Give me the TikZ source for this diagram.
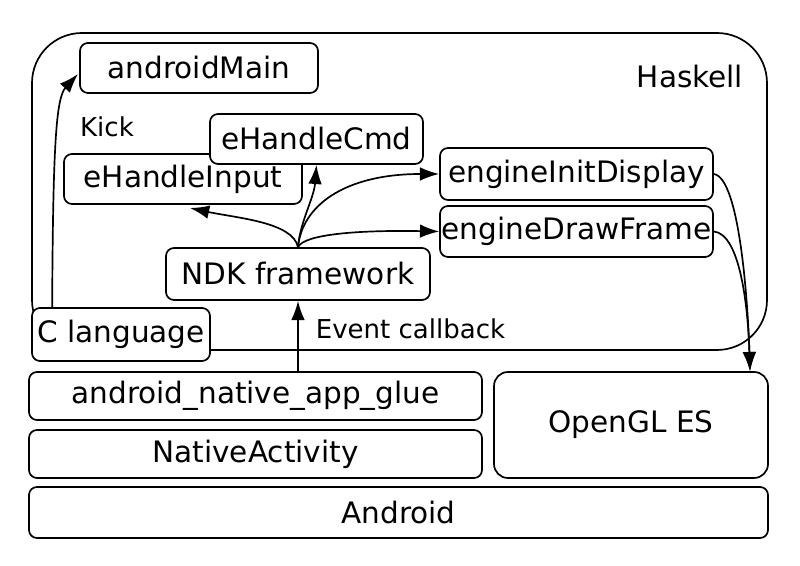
\documentclass[tikz,border=0pt]{standalone}
\usepackage{fontspec}
\setmainfont{DejaVu Sans}
\usepackage{tikz}
\usetikzlibrary{arrows.meta}

\begin{document}
\begin{tikzpicture}[
	line width=1.2pt,
	blk/.style={rectangle,draw,rounded corners=0.2cm,fill=white,inner sep=0pt,font=\fontsize{21}{25}\selectfont},
	lbl/.style={inner sep=0pt,font=\fontsize{18.5}{22}\selectfont},
	arr/.style={-{Latex[length=0.48cm,width=0.34cm]}}]
		\useasboundingbox (0,0) rectangle (20,14.15);
%		\draw[help lines] (0,0) grid (20,14);
		\draw[rounded corners=1.25cm] (0.8,5.4) rectangle (19.175,13.325);
		\path (17.25,12.225) node(haskell) [lbl,font=\fontsize{21}{25}\selectfont] {Haskell};
		\path (2.675,10.975) node(kick) [lbl] {Kick};
		\path (7.875,5.925) node(event) [lbl,anchor=west] {Event callback};

		\path (4.975,12.45) node(android_main) [blk,minimum width=5.95cm,minimum height=1.25cm] {androidMain};
		\path (4.575,9.675) node(e_input) [blk,minimum width=5.95cm,minimum height=1.25cm] {eHandleInput};
		\path (7.9125,10.675) node(e_cmd) [blk,minimum width=5.325cm,minimum height=1.25cm] {eHandleCmd};
		\path (7.45,7.3) node(ndk) [blk,minimum width=6.6cm,minimum height=1.3cm] {NDK framework};
		\path (14.4125,9.8) node(init_display) [blk,minimum width=6.825cm,minimum height=1.3cm] {engineInitDisplay};
		\path (14.4125,8.3625) node(draw_frame) [blk,minimum width=6.825cm,minimum height=1.275cm] {engineDrawFrame};
		\path (3.025,5.7875) node(c_lang) [blk,minimum width=4.45cm,minimum height=1.325cm] {C language};
		\path (6.3875,4.25) node(glue) [blk,minimum width=11.325cm,minimum height=1.2cm] {android\_native\_app\_glue};
		\path (6.3875,2.8) node(native_act) [blk,minimum width=11.325cm,minimum height=1.2cm] {NativeActivity};
		\path (15.775,3.525) node(opengl) [blk,rounded corners=0.35cm,minimum width=6.85cm,minimum height=2.65cm] {OpenGL ES};
		\path (9.9625,1.3375) node(android) [blk,minimum width=18.475cm,minimum height=1.275cm] {Android};

		\path (c_lang.north west) +(0.525,0) coordinate (kick_start);
		\path (1.95,12.3) coordinate (kick_end);
		\path (opengl.north -| 18.75,0) coordinate (gl_in);

		\draw[arr] (kick_start) .. controls (1.325,10.5) and (1.4,11.7) .. (kick_end);
		\draw[arr] (ndk.south |- glue.north) -- (ndk.south);
		\draw[arr] (ndk.north) .. controls (7.325,8.6) and (5.9,8.7) .. (4.75,8.95);
		\draw[arr] (ndk.north) .. controls (7.5,8.6) and (7.85,9.2) .. (e_cmd.south);
		\draw[arr] (ndk.north) .. controls (7.55,9.0) and (8.6,9.8) .. (init_display.west);
		\draw[arr] (ndk.north) .. controls (7.6,8.3) and (9.0,8.4) .. (draw_frame.west);
		\draw[arr] (init_display.east) .. controls (18.5,9.7) and (18.7,6.5) .. (gl_in);
		\draw[arr] (draw_frame.east) .. controls (18.5,8.3) and (18.7,6.5) .. (gl_in);
	\end{tikzpicture}
\end{document}
